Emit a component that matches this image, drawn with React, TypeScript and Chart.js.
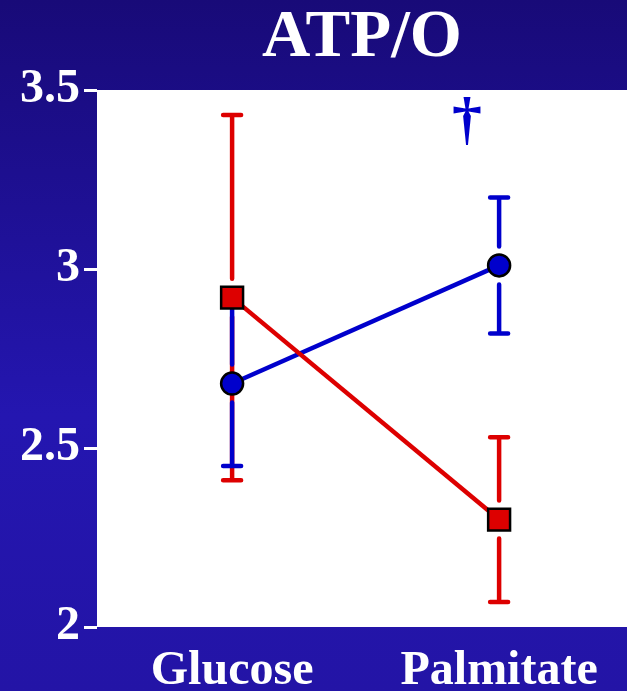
import React, { useEffect, useRef } from "react";
import { Chart, registerables } from "chart.js";

Chart.register(...registerables);

const categories = ["Glucose", "Palmitate"];
const yTicks = [2, 2.5, 3, 3.5];
const blueMeans = [2.68, 3.01];
const blueLow = [2.45, 2.82];
const blueHigh = [2.91, 3.2];
const redMeans = [2.92, 2.3];
const redLow = [2.41, 2.07];
const redHigh = [3.43, 2.53];
const daggerX = [0.88];
const daggerY = [3.41];
const titleText = "ATP/O";

const RED = "#dd0000";
const BLUE = "#0000cc";
const FONT = "'Liberation Serif', 'Times New Roman', serif";

const bgPlugin = {
  id: "bgPlugin",
  beforeDraw(chart: any) {
    const { ctx, width, height, chartArea } = chart;
    ctx.save();
    const g = ctx.createLinearGradient(0, 0, 0, height);
    g.addColorStop(0, "#180a78");
    g.addColorStop(0.6, "#2416b0");
    g.addColorStop(1, "#2314a6");
    ctx.fillStyle = g;
    ctx.fillRect(0, 0, width, height);
    ctx.fillStyle = "#ffffff";
    ctx.fillRect(chartArea.left, chartArea.top, chartArea.right - chartArea.left, chartArea.bottom - chartArea.top);
    ctx.fillStyle = "#ffffff";
    ctx.font = `bold 67px ${FONT}`;
    ctx.textAlign = "center";
    ctx.textBaseline = "alphabetic";
    ctx.fillText(titleText, (chartArea.left + chartArea.right) / 2, 56);
    ctx.restore();
  },
};

const errPlugin = {
  id: "errPlugin",
  beforeDatasetsDraw(chart: any) {
    const { ctx, scales } = chart;
    const xs = scales.x;
    const ys = scales.y;
    const draw = (means: number[], lo: number[], hi: number[], color: string, half: number) => {
      ctx.save();
      ctx.strokeStyle = color;
      ctx.lineWidth = 4.5;
      ctx.lineCap = "round";
      means.forEach((m, i) => {
        const x = xs.getPixelForValue(i);
        const ym = ys.getPixelForValue(m);
        const yl = ys.getPixelForValue(lo[i]);
        const yh = ys.getPixelForValue(hi[i]);
        const gap = half + 8;
        ctx.beginPath();
        ctx.moveTo(x, yh);
        ctx.lineTo(x, ym - gap);
        ctx.moveTo(x, ym + gap);
        ctx.lineTo(x, yl);
        ctx.moveTo(x - 9, yh);
        ctx.lineTo(x + 9, yh);
        ctx.moveTo(x - 9, yl);
        ctx.lineTo(x + 9, yl);
        ctx.stroke();
      });
      ctx.restore();
    };
    draw(redMeans, redLow, redHigh, RED, 11);
    draw(blueMeans, blueLow, blueHigh, BLUE, 11);
  },
  afterDatasetsDraw(chart: any) {
    const { ctx, scales } = chart;
    ctx.save();
    ctx.fillStyle = BLUE;
    ctx.font = `bold 60px ${FONT}`;
    ctx.textAlign = "center";
    ctx.textBaseline = "middle";
    ctx.fillText("†", scales.x.getPixelForValue(daggerX[0]), scales.y.getPixelForValue(daggerY[0]));
    ctx.restore();
  },
};

export default function App() {
  const ref = useRef<HTMLCanvasElement | null>(null);
  useEffect(() => {
    document.body.style.margin = "0";
    const canvas = ref.current!;
    const chart = new Chart(canvas, {
      type: "line",
      data: {
        datasets: [
          {
            label: "Red",
            data: redMeans.map((v, i) => ({ x: i, y: v })),
            borderColor: RED,
            backgroundColor: RED,
            borderWidth: 4.5,
            pointStyle: "rect",
            pointRadius: 15.5,
            pointBackgroundColor: RED,
            pointBorderColor: "#000000",
            pointBorderWidth: 2.5,
            order: 1,
          },
          {
            label: "Blue",
            data: blueMeans.map((v, i) => ({ x: i, y: v })),
            borderColor: BLUE,
            backgroundColor: BLUE,
            borderWidth: 4.5,
            pointStyle: "circle",
            pointRadius: 11,
            pointBackgroundColor: BLUE,
            pointBorderColor: "#000000",
            pointBorderWidth: 2.5,
            order: 2,
          },
        ],
      },
      options: {
        responsive: false,
        animation: false,
        layout: { autoPadding: false, padding: { top: 90, right: 0, left: 0, bottom: 0 } },
        plugins: {
          legend: { display: false },
          title: { display: false },
          tooltip: { enabled: false },
        },
        scales: {
          x: {
            type: "linear",
            min: -0.506,
            max: 1.479,
            grid: { display: false },
            border: { display: false },
            afterBuildTicks: (s: any) => {
              s.ticks = categories.map((_, i) => ({ value: i }));
            },
            afterFit: (s: any) => {
              s.height = 64;
              s.paddingLeft = 0;
              s.paddingRight = 0;
            },
            ticks: {
              color: "#ffffff",
              padding: 8,
              maxRotation: 0,
              autoSkip: false,
              font: { family: FONT, size: 48, weight: "bold" },
              callback: (v: any) => categories[v as number] ?? "",
            },
          },
          y: {
            type: "linear",
            min: 2,
            max: 3.5,
            afterBuildTicks: (s: any) => {
              s.ticks = yTicks.map((v) => ({ value: v }));
            },
            afterFit: (s: any) => {
              s.width = 97;
              s.paddingTop = 0;
              s.paddingBottom = 0;
            },
            grid: {
              drawOnChartArea: false,
              color: "#ffffff",
              lineWidth: 3,
              tickLength: 13,
            },
            border: { display: false },
            ticks: {
              color: "#ffffff",
              padding: 4,
              font: { family: FONT, size: 48, weight: "bold" },
              callback: (v: any) => String(v),
            },
          },
        },
      },
      plugins: [bgPlugin, errPlugin],
    } as any);
    return () => chart.destroy();
  }, []);
  return <canvas ref={ref} width={627} height={691} style={{ display: "block" }} />;
}
